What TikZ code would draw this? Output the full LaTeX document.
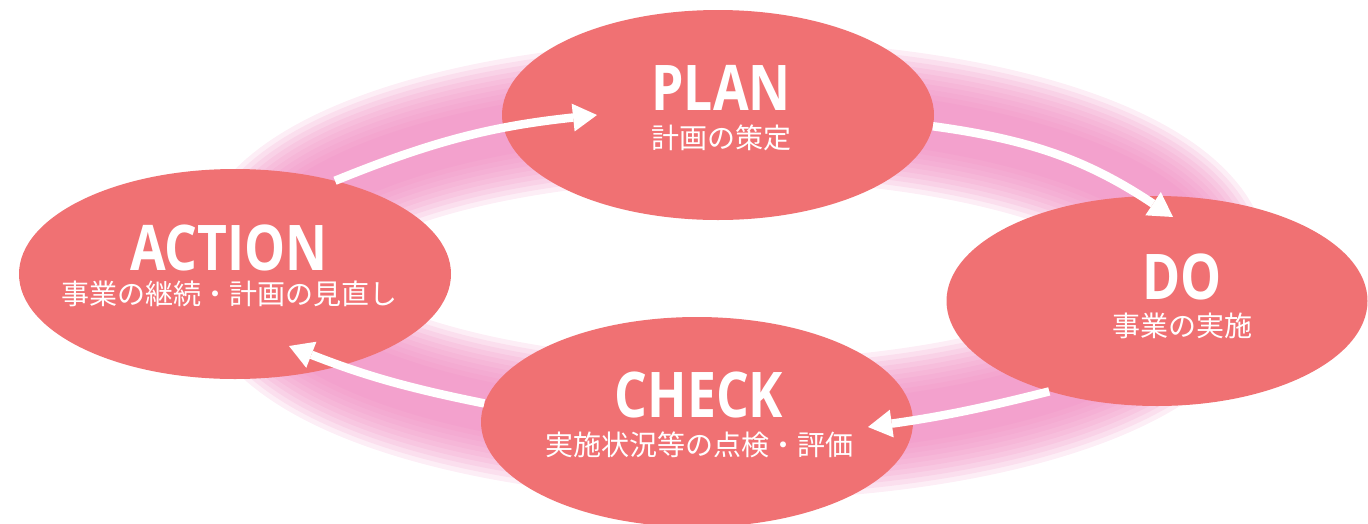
\documentclass[tikz,border=0pt]{standalone}
\usepackage{fontspec}
\usepackage{tikz}
\usetikzlibrary{shapes.geometric,arrows.meta}
\newfontfamily\titlefont[FakeStretch=0.82]{Open Sans}
\newfontfamily\jpfont{Noto Sans CJK JP}
\definecolor{ellred}{HTML}{F07173}
\definecolor{glowpink}{HTML}{F08AC0}

\begin{document}
\begin{tikzpicture}[x=1pt,y=-1pt,
    phase/.style={ellipse,fill=ellred,minimum width=432pt,minimum height=210pt,inner sep=0pt},
    ttl/.style={anchor=base,text=white,font=\titlefont\bfseries\fontsize{63}{63}\selectfont},
    sub/.style={anchor=base,text=white,font=\jpfont\fontsize{28}{28}\selectfont},
    cyc/.style={white,line width=8.5pt,-{Triangle[length=24pt,width=28pt,line width=0pt]}}]
  \useasboundingbox (0,0) rectangle (1368,523);
  \clip (0,0) rectangle (1368,523);
  % glow
  \foreach \w in {140,130,...,50}
    \draw[glowpink,opacity=0.15,line width=\w pt] (730,270) ellipse [x radius=470pt,y radius=160pt];

  \node[phase] (plan) at (718,115) {};
  \node[phase,minimum width=421pt] (do) at (1157,301) {};
  \node[phase] (check) at (697,422) {};
  \node[phase] (action) at (235,274) {};

  \coordinate (tipplan) at (597,115);
  \coordinate (tipdo) at (1173,217);
  \coordinate (tipcheck) at (868,427);
  \coordinate (tipaction) at (289,346);

  \path[cyc]
    (action.43) edge[bend left=8] (tipplan)
    (plan.-3) edge[bend left=13] (tipdo)
    (do.220) edge[bend left=3] (tipcheck)
    (check.175) edge[bend left=5] (tipaction);

  \node[ttl] (plan-t) at ([xshift=3pt,yshift=5pt]plan.center) {PLAN};
  \node[sub] (plan-s) at ([xshift=3pt,yshift=-33pt]plan.center) {計画の策定};
  \node[ttl] (do-t) at ([xshift=25pt,yshift=2pt]do.center) {DO};
  \node[sub] (do-s) at ([xshift=25pt,yshift=-35pt]do.center) {事業の実施};
  \node[ttl] (check-t) at ([xshift=2pt,yshift=5pt]check.center) {CHECK};
  \node[sub] (check-s) at ([xshift=2pt,yshift=-33pt]check.center) {実施状況等の点検・評価};
  \node[ttl] (action-t) at ([xshift=-6pt,yshift=4pt]action.center) {ACTION};
  \node[sub] (action-s) at ([xshift=-6pt,yshift=-30pt]action.center) {事業の継続・計画の見直し};
\end{tikzpicture}
\end{document}
